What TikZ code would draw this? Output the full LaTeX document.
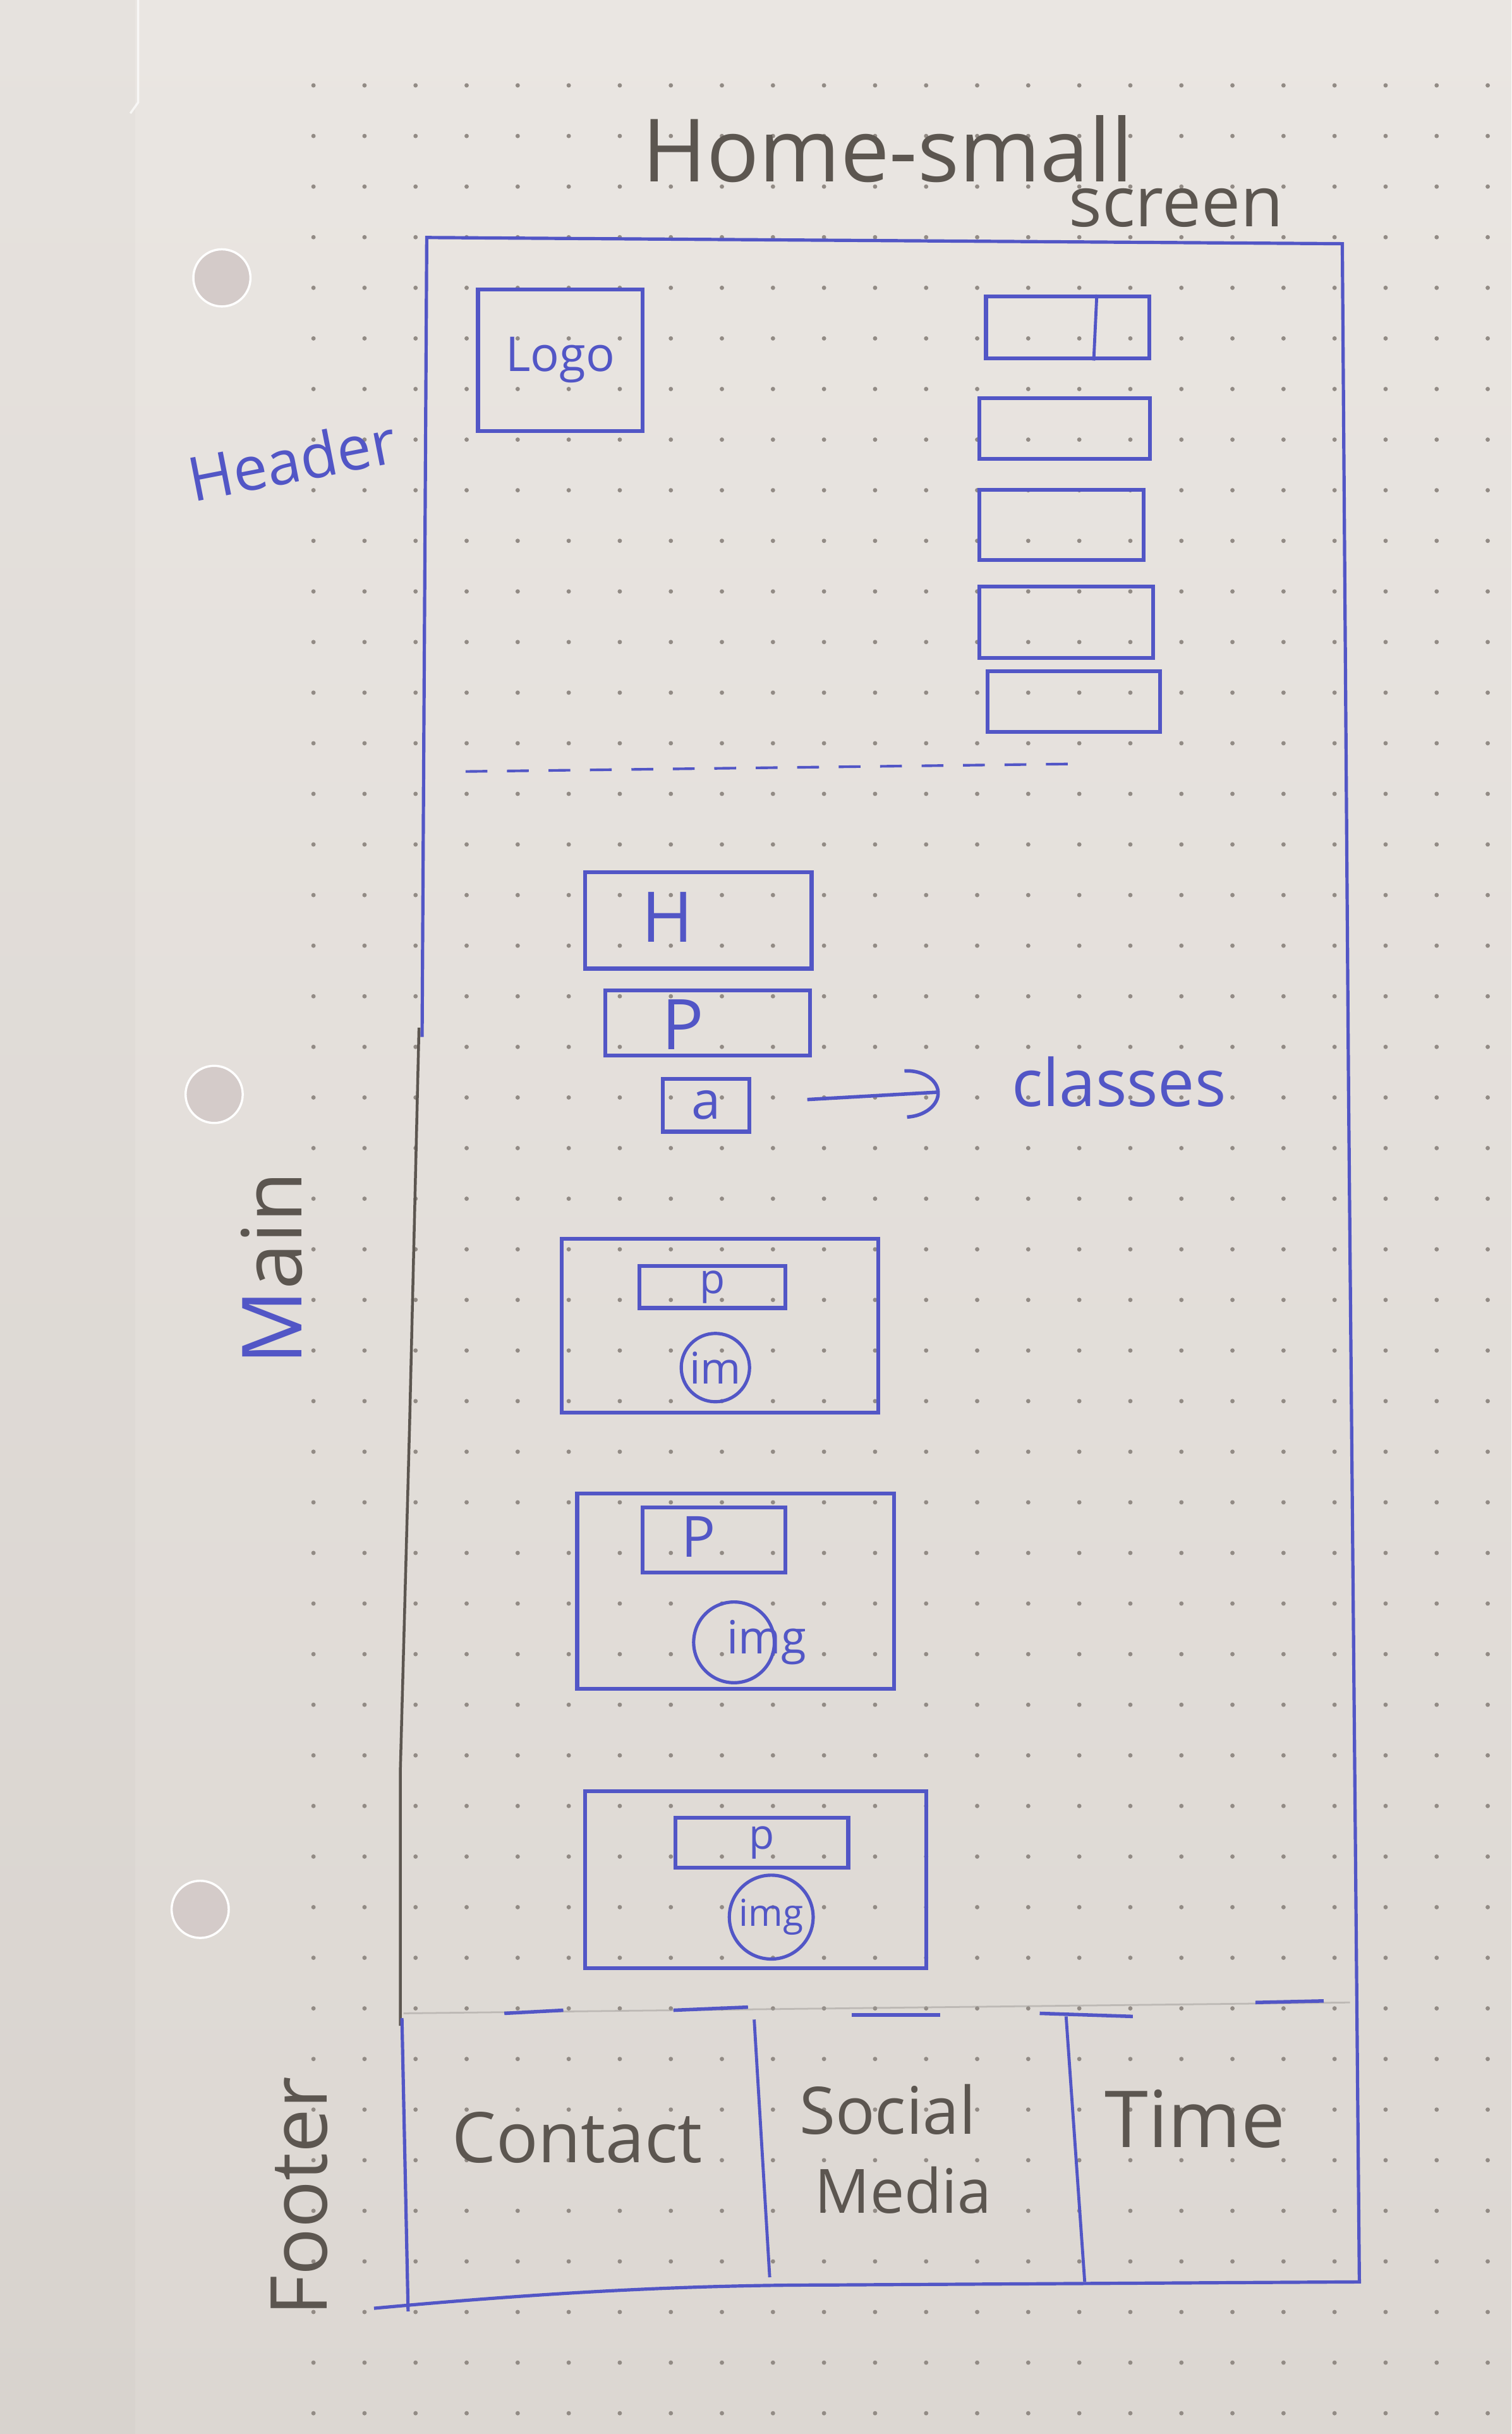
\documentclass[tikz,border=0pt]{standalone}
\usepackage{fontspec}
\setmainfont{Open Sans}
\usetikzlibrary{arrows.meta}

\definecolor{ink}{RGB}{82,86,198}
\definecolor{pencil}{RGB}{92,86,80}
\definecolor{dotgray}{RGB}{146,139,133}
\definecolor{papertop}{RGB}{234,230,226}
\definecolor{paperbot}{RGB}{220,215,210}
\definecolor{holefill}{RGB}{212,203,201}
\newcommand{\fsz}[1]{\fontsize{#1}{#1}\selectfont}

\begin{document}
\begin{tikzpicture}[x=0.025cm, y=-0.025cm]
        \tikzstyle{wire}=[draw=ink, line width=1.8pt, inner sep=0pt];
        \tikzstyle{hand}=[text=ink, inner sep=0pt];
        \tikzstyle{pen}=[text=pencil, inner sep=0pt];
        \tikzstyle{imgdot}=[circle, draw=ink, line width=1.5pt, inner sep=0pt];

        % paper, dots, punched holes
        \useasboundingbox (0,0) rectangle (974,1568);
        \shade[top color=papertop, bottom color=paperbot] (0,0) rectangle (974,1568);
        \fill[black, opacity=0.015] (0,0) rectangle (87,1568);
        \draw[white, opacity=0.7, line width=1pt] (89,0) -- (89,66) -- (84,73);
        \foreach \i in {0,...,23}
            \foreach \j in {0,...,46}
                \fill[dotgray] (202+32.9*\i, 55+32.6*\j) circle (0.035cm);
        \fill[holefill] (143,179) circle (0.45cm);
        \fill[holefill] (138,705) circle (0.45cm);
        \fill[holefill] (129,1230) circle (0.45cm);
        \draw[white, line width=1pt] (143,179) circle (0.46cm);
        \draw[white, line width=1pt] (138,705) circle (0.46cm);
        \draw[white, line width=1pt] (129,1230) circle (0.46cm);

        % title
        \node[pen, font=\fsz{40}] (title) at (572,96) {Home-small};
        \node[pen, font=\fsz{32}] (subtitle) at (758,134) {screen};

        % outer frame
        \draw[ink, line width=1.5pt] (272,668) -- (275,153) -- (865,157) -- (869,700) -- (876,1471);
        \draw[ink, line width=1.5pt] (241,1487) .. controls (360,1476) and (450,1472) .. (533,1472) -- (876,1470);
        \draw[pencil, line width=1.3pt] (270,662) -- (264,916) -- (258,1140) -- (258,1305);
        \draw[ink, line width=1.5pt] (259,1300) -- (263,1489);

        % header
        \node[hand, font=\fsz{28}, rotate=11] (header) at (188,296) {Header};
        \node[wire, minimum width=2.65cm, minimum height=2.28cm] (logo) at (361,232) [hand, font=\fsz{22}] {Logo};
        \node[wire, minimum width=2.63cm, minimum height=1.0cm] (menu1) at (688,211) {};
        \node[wire, minimum width=2.75cm, minimum height=0.98cm] (menu2) at (686,276) {};
        \node[wire, minimum width=2.65cm, minimum height=1.13cm] (menu3) at (684,338) {};
        \node[wire, minimum width=2.8cm, minimum height=1.15cm] (menu4) at (687,401) {};
        \node[wire, minimum width=2.78cm, minimum height=0.98cm] (menu5) at (692,452) {};
        \draw[ink, line width=1.4pt] ([xshift=0.47cm]menu1.north) -- ([xshift=0.42cm]menu1.south);
        \draw[ink, line width=1.2pt, dash pattern=on 10pt off 9pt] (300,497) -- (700,492);

        % main
        \node[pen, font=\fsz{38}, rotate=90] (main) at (175,817) {{\color{ink}M}ain};
        \node[wire, minimum width=3.65cm, minimum height=1.55cm] (hbox) at (450,593) {};
        \node[hand, font=\fsz{32}] (htext) at (430,591) {H};
        \node[wire, minimum width=3.3cm, minimum height=1.05cm] (pbox) at (456,659) {};
        \node[hand, font=\fsz{32}] (ptext) at (440,660) {P};
        \node[wire, minimum width=1.4cm, minimum height=0.85cm] (abox) at (455,712) [hand, font=\fsz{24}] {a};
        \node[hand, font=\fsz{30}] (classes) at (721,697) {classes};
        \draw (abox) edge[-{Arc Barb[length=0.55cm, width=0.8cm]}, ink, line width=1.6pt, shorten <=0.9cm, shorten >=1.15cm] node {} (classes);

        \node[wire, minimum width=5.1cm, minimum height=2.8cm] (card1) at (464,854) {};
        \node[wire, minimum width=2.35cm, minimum height=0.68cm] (para1) at (459,829) [hand, font=\fsz{19}] {p};
        \node[imgdot, minimum size=1.1cm] (pic1) at (461,881) [hand, font=\fsz{20}] {im};

        \node[wire, minimum width=5.1cm, minimum height=3.15cm] (card2) at (474,1025) {};
        \node[wire, minimum width=2.3cm, minimum height=1.05cm] (para2) at (460,992) {};
        \node[hand, font=\fsz{26}] (ptext2) at (450,990) {P};
        \node[imgdot, minimum size=1.3cm] (pic2) at (473,1058) {};
        \node[hand, font=\fsz{21}] (imgtext2) at (494,1058) {img};

        \node[wire, minimum width=5.5cm, minimum height=2.85cm] (card3) at (487,1211) {};
        \node[wire, minimum width=2.78cm, minimum height=0.8cm] (para3) at (491,1187) [hand, font=\fsz{19}] {p};
        \node[imgdot, minimum size=1.35cm] (pic3) at (497,1235) [hand, font=\fsz{17}] {img};

        % footer
        \draw[pencil!60, opacity=0.5, line width=0.8pt] (260,1297) -- (870,1290);
        \draw[ink, line width=1.6pt] (325,1297) -- (363,1295);
        \draw[ink, line width=1.6pt] (434,1295) -- (482,1293);
        \draw[ink, line width=1.6pt] (549,1298) -- (606,1298);
        \draw[ink, line width=1.6pt] (670,1297) -- (730,1299);
        \draw[ink, line width=1.6pt] (809,1290) -- (853,1289);
        \draw[ink, line width=1.4pt] (486,1301) -- (496,1467);
        \draw[ink, line width=1.4pt] (687,1299) -- (699,1470);
        \node[pen, font=\fsz{36}, rotate=90] (footer) at (193,1415) {Footer};
        \node[pen, font=\fsz{32}] (contact) at (372,1377) {Contact};
        \node[pen, font=\fsz{30}] (social) at (572,1359) {Social};
        \node[pen, font=\fsz{28}] (media) at (582,1411) {Media};
        \node[pen, font=\fsz{36}] (time) at (770,1365) {Time};
\end{tikzpicture}
\end{document}
